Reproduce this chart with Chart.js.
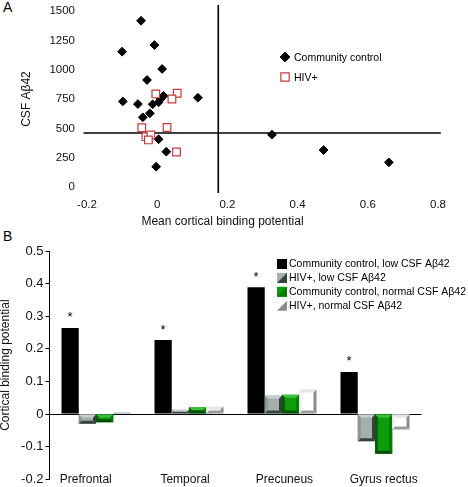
<!DOCTYPE html>
<html>
<head>
<meta charset="utf-8">
<script src="https://cdn.jsdelivr.net/npm/chart.js@4.4.1/dist/chart.umd.min.js"></script>
<style>
  html, body { margin: 0; padding: 0; background: #fff; }
  body { width: 468px; height: 487px; position: relative; overflow: hidden; font-family: 'Liberation Sans', Arial, sans-serif; }
  .panel-label { position: absolute; left: 3px; font-size: 14px; line-height: 14px; color: #000; }
  #wrapA { position: absolute; left: 0; top: 0; width: 468px; height: 232px; }
  #wrapB { position: absolute; left: 0; top: 240px; width: 468px; height: 247px; }
</style>
</head>
<body>
<div class="panel-label" style="top:0px">A</div>
<div class="panel-label" style="top:229px">B</div>
<div id="wrapA"><canvas id="chartA" width="468" height="232"></canvas></div>
<div id="wrapB"><canvas id="chartB" width="468" height="247"></canvas></div>
<script>
// ---- Panel A: CSF Abeta42 vs mean cortical binding potential ----
const controlBP = [-0.046, -0.008, -0.100, 0.014, -0.029, -0.098, -0.055, -0.013, 0.004, 0.018,
                   0.009, 0.116, -0.041, -0.021, 0.004, 0.026, -0.003, 0.327, 0.474, 0.660];
const controlAb = [1417, 1210, 1153, 1006, 912, 729, 707, 705, 722, 776,
                   750, 761, 594, 628, 407, 301, 173, 446, 315, 210];
const hivBP = [-0.004, 0.057, 0.042, -0.044, 0.028, -0.032, -0.018, -0.025, 0.055];
const hivAb = [793, 799, 750, 505, 507, 429, 443, 401, 298];

// cut-off lines and how far they run
const abCutoff = 460;
const bpCutoff = 0.174;
const bpLineRange = [-0.21, 0.808];
const abLineRange = [-51, 1551];

const xTicksA = [-0.2, 0, 0.2, 0.4, 0.6, 0.8];
const yTicksA = [0, 250, 500, 750, 1000, 1250, 1500];

// ---- Panel B: regional binding potential ----
const regions = ['Prefrontal', 'Temporal', 'Precuneus', 'Gyrus rectus'];
const ccLow = [0.264, 0.227, 0.389, 0.129];
const hivLow = [-0.030, 0.013, 0.057, -0.083];
const ccNormal = [-0.025, 0.021, 0.059, -0.122];
const hivNormal = [0.006, 0.023, 0.075, -0.047];
const ccLowSignificant = [true, true, true, true];
const yTicksB = [-0.2, -0.1, 0, 0.1, 0.2, 0.3, 0.4, 0.5];

const FONT = "'Liberation Sans', Arial, sans-serif";
Chart.defaults.font.family = FONT;
Chart.defaults.color = '#111';

// invisible tick marks, used only to keep labels away from the plot
const hiddenTicks = len => ({
  display: true,
  drawOnChartArea: false,
  drawTicks: true,
  tickLength: len,
  tickColor: 'rgba(0,0,0,0)'
});

function drawMarker(ctx, style, x, y, r, fill, stroke, lw) {
  ctx.beginPath();
  if (style === 'rectRot') {
    ctx.moveTo(x - r, y);
    ctx.lineTo(x, y - r);
    ctx.lineTo(x + r, y);
    ctx.lineTo(x, y + r);
    ctx.closePath();
  } else {
    const s = Math.SQRT1_2 * r;
    ctx.rect(x - s, y - s, 2 * s, 2 * s);
  }
  ctx.fillStyle = fill;
  ctx.fill();
  if (lw) {
    ctx.lineWidth = lw;
    ctx.strokeStyle = stroke;
    ctx.stroke();
  }
}

// legend and x caption for panel A
const scatterExtras = {
  id: 'scatterExtras',
  afterDraw(chart) {
    const ctx = chart.ctx;
    const items = chart.data.datasets.filter(d => d.inLegend);
    ctx.save();
    ctx.font = '10.5px ' + FONT;
    ctx.textBaseline = 'middle';
    items.forEach((ds, i) => {
      const x = 285, y = 57 + i * 20;
      drawMarker(ctx, ds.pointStyle, x, y, ds.pointRadius + 0.5, ds.backgroundColor, ds.borderColor, ds.borderWidth);
      ctx.fillStyle = '#000';
      ctx.fillText(ds.label, x + 9, y + 1);
    });
    ctx.font = '12px ' + FONT;
    ctx.textAlign = 'center';
    ctx.fillStyle = '#111';
    ctx.fillText('Mean cortical binding potential', 222.5, 222);
    ctx.restore();
  }
};

const chartA = new Chart(document.getElementById('chartA'), {
  type: 'scatter',
  data: {
    datasets: [
      {
        label: 'Community control',
        inLegend: true,
        data: controlBP.map((x, i) => ({ x, y: controlAb[i] })),
        pointStyle: 'rectRot',
        pointRadius: 4.4,
        backgroundColor: '#000',
        borderColor: '#000',
        borderWidth: 1,
        order: 1
      },
      {
        label: 'HIV+',
        inLegend: true,
        data: hivBP.map((x, i) => ({ x, y: hivAb[i] })),
        pointStyle: 'rect',
        pointRadius: 5.4,
        backgroundColor: '#fff',
        borderColor: '#c43c3c',
        borderWidth: 1.2,
        order: 0
      },
      {
        label: 'Abeta cut-off',
        data: bpLineRange.map(x => ({ x, y: abCutoff })),
        showLine: true,
        pointRadius: 0,
        borderColor: '#000',
        borderWidth: 1.6,
        clip: false,
        order: 3
      },
      {
        label: 'BP cut-off',
        data: abLineRange.map(y => ({ x: bpCutoff, y })),
        showLine: true,
        pointRadius: 0,
        borderColor: '#000',
        borderWidth: 1.6,
        clip: false,
        order: 3
      }
    ]
  },
  options: {
    responsive: false,
    animation: false,
    layout: { padding: { top: 11, right: 30, left: 0, bottom: 0 } },
    plugins: { legend: { display: false }, tooltip: { enabled: false } },
    scales: {
      x: {
        type: 'linear',
        min: -0.2,
        max: 0.8,
        afterBuildTicks: s => { s.ticks = xTicksA.map(v => ({ value: v })); },
        grid: hiddenTicks(10.5),
        border: { display: false },
        ticks: { padding: 0, font: { size: 11.5 }, maxRotation: 0 },
        afterFit: s => { s.height = 45; }
      },
      y: {
        min: 0,
        max: 1500,
        afterBuildTicks: s => { s.ticks = yTicksA.map(v => ({ value: v })); },
        grid: hiddenTicks(12),
        border: { display: false },
        ticks: { padding: 0, font: { size: 11.5 }, callback: v => String(v) },
        title: { display: true, text: 'CSF A\u03b242', font: { size: 12 }, padding: { top: 19.5, bottom: 0 } },
        afterFit: s => { s.width = 87; }
      }
    }
  },
  plugins: [scatterExtras]
});

// ---- bar helpers ----
function drawBevel(ctx, l, t, r, b, c) {
  const bw = Math.min(3, (b - t) / 2, (r - l) / 2);
  const poly = (pts, col) => {
    ctx.beginPath();
    ctx.moveTo(pts[0][0], pts[0][1]);
    for (let k = 1; k < pts.length; k++) ctx.lineTo(pts[k][0], pts[k][1]);
    ctx.closePath();
    ctx.fillStyle = col;
    ctx.fill();
  };
  poly([[l, t], [r, t], [r - bw, t + bw], [l + bw, t + bw]], c.light);
  poly([[l, t], [l, b], [l + bw, b - bw], [l + bw, t + bw]], c.left);
  poly([[r, t], [r, b], [r - bw, b - bw], [r - bw, t + bw]], c.right);
  poly([[l, b], [r, b], [r - bw, b - bw], [l + bw, b - bw]], c.bottom);
}

const bevelBars = {
  id: 'bevelBars',
  afterDatasetsDraw(chart) {
    const ctx = chart.ctx;
    ctx.save();
    chart.data.datasets.forEach((ds, i) => {
      if (!ds.bevel) return;
      chart.getDatasetMeta(i).data.forEach(el => {
        const p = el.getProps(['x', 'y', 'base', 'width'], true);
        const l = p.x - p.width / 2, r = p.x + p.width / 2;
        const t = Math.min(p.y, p.base), b = Math.max(p.y, p.base);
        drawBevel(ctx, l, t, r, b, ds.bevel);
      });
    });
    // significance stars over the community control, low CSF bars
    ctx.fillStyle = '#000';
    ctx.font = '13px ' + FONT;
    ctx.textAlign = 'center';
    ctx.textBaseline = 'alphabetic';
    chart.getDatasetMeta(0).data.forEach((el, i) => {
      if (ccLowSignificant[i]) ctx.fillText('*', el.x, el.y - 6.5);
    });
    ctx.restore();
  }
};

const barLegend = {
  id: 'barLegend',
  afterDraw(chart) {
    const ctx = chart.ctx;
    ctx.save();
    ctx.font = '10.5px ' + FONT;
    ctx.textBaseline = 'middle';
    chart.data.datasets.forEach((ds, i) => {
      const x = 277, y = 24 + i * 13.9;
      ctx.fillStyle = ds.backgroundColor;
      ctx.fillRect(x, y - 5, 10, 10);
      if (ds.bevel) {
        ctx.beginPath();
        ctx.moveTo(x + 10, y - 5);
        ctx.lineTo(x + 10, y + 5);
        ctx.lineTo(x, y + 5);
        ctx.closePath();
        ctx.fillStyle = ds.bevel.right;
        ctx.fill();
      }
      ctx.fillStyle = '#000';
      ctx.fillText(ds.label, x + 12, y + 0.5);
    });
    ctx.restore();
  }
};

const chartB = new Chart(document.getElementById('chartB'), {
  type: 'bar',
  data: {
    labels: regions,
    datasets: [
      { label: 'Community control, low CSF A\u03b242', data: ccLow, backgroundColor: '#000' },
      {
        label: 'HIV+, low CSF A\u03b242', data: hivLow, backgroundColor: '#a4b0ae',
        bevel: { light: '#c8d0cf', left: '#8a9795', right: '#35413f', bottom: '#35413f' }
      },
      {
        label: 'Community control, normal CSF A\u03b242', data: ccNormal, backgroundColor: '#0c9c0c',
        bevel: { light: '#3fbf3f', left: '#045c04', right: '#067a06', bottom: '#034a03' }
      },
      {
        label: 'HIV+, normal CSF A\u03b242', data: hivNormal, backgroundColor: '#ffffff',
        bevel: { light: '#e4e4e4', left: '#f2f2f2', right: '#8c8c8c', bottom: '#9a9a9a' }
      }
    ]
  },
  options: {
    responsive: false,
    animation: false,
    layout: { padding: { top: 11, right: 46.5, left: 0, bottom: 7.7 } },
    datasets: { bar: { categoryPercentage: 0.742, barPercentage: 1, borderWidth: 0 } },
    plugins: { legend: { display: false }, tooltip: { enabled: false } },
    scales: {
      x: { type: 'category', display: false, offset: true },
      // region names sit level with the -0.2 tick, spaced a little wider than the bar groups
      xLabels: {
        type: 'linear',
        position: { y: -0.2 },
        offset: false,
        min: -0.365,
        max: 3.38,
        afterBuildTicks: s => { s.ticks = regions.map((_, i) => ({ value: i })); },
        grid: { display: false, drawTicks: false, offset: false },
        border: { display: false },
        ticks: { callback: v => regions[v], padding: -6.5, font: { size: 12 }, autoSkip: false, maxRotation: 0 },
        afterFit: s => { s.paddingLeft = 0; s.paddingRight = 0; }
      },
      y: {
        min: -0.2,
        max: 0.5,
        afterBuildTicks: s => { s.ticks = yTicksB.map(v => ({ value: v })); },
        grid: {
          color: c => (c.tick && c.tick.value === 0 ? '#000' : 'rgba(0,0,0,0)'),
          lineWidth: 1,
          drawTicks: true,
          tickLength: 4,
          tickColor: '#000'
        },
        border: { display: true, color: '#000', width: 1 },
        ticks: { padding: 2, font: { size: 13 } },
        title: { display: true, text: 'Cortical binding potential', font: { size: 12 }, padding: { top: -1.5, bottom: 0 } },
        afterFit: s => { s.width = 49.5; s.paddingTop = 0; s.paddingBottom = 0; }
      }
    }
  },
  plugins: [bevelBars, barLegend]
});
</script>
</body>
</html>
